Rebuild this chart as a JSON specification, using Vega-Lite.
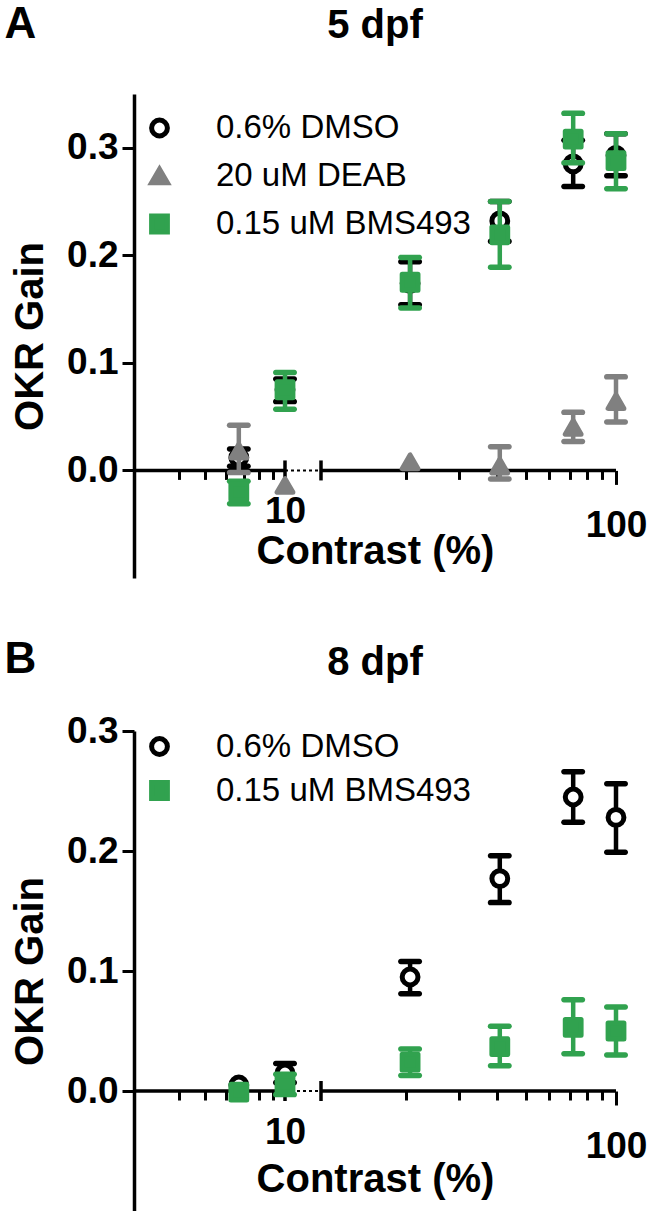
{
  "$schema": "https://vega.github.io/schema/vega-lite/v6.json",
  "padding": {"left": 4, "top": 3, "right": 0, "bottom": 0},
  "background": "white",
  "config": {
    "font": "Liberation Sans",
    "view": {"stroke": null},
    "axis": {"labelFont": "Liberation Sans", "titleFont": "Liberation Sans", "labelFontWeight": "bold", "titleFontWeight": "bold", "labelColor": "black", "titleColor": "black", "domainColor": "black", "tickColor": "black", "grid": false},
    "title": {"font": "Liberation Sans", "color": "black", "fontWeight": "bold"},
    "legend": {"labelFont": "Liberation Sans", "labelFontSize": 33, "labelColor": "black", "labelLimit": 500, "symbolSize": 250, "symbolStrokeWidth": 5, "labelOffset": 40, "padding": 0, "title": null, "symbolOpacity": 1}
  },
  "datasets": {
    "d5": [
      {"series": "0.6% DMSO", "contrast": 6.7, "mean": 0.012, "lo": 0.004, "hi": 0.020},
      {"series": "0.6% DMSO", "contrast": 10, "mean": 0.075, "lo": 0.064, "hi": 0.085},
      {"series": "0.6% DMSO", "contrast": 20.6, "mean": 0.174, "lo": 0.154, "hi": 0.194},
      {"series": "0.6% DMSO", "contrast": 41, "mean": 0.232, "lo": 0.213, "hi": 0.250},
      {"series": "0.6% DMSO", "contrast": 72, "mean": 0.285, "lo": 0.264, "hi": 0.307},
      {"series": "0.6% DMSO", "contrast": 100, "mean": 0.293, "lo": 0.274, "hi": 0.313},
      {"series": "20 uM DEAB", "contrast": 6.7, "mean": 0.018, "lo": -0.002, "hi": 0.042},
      {"series": "20 uM DEAB", "contrast": 10, "mean": -0.014, "lo": null, "hi": null},
      {"series": "20 uM DEAB", "contrast": 20.6, "mean": 0.008, "lo": null, "hi": null},
      {"series": "20 uM DEAB", "contrast": 41, "mean": 0.004, "lo": -0.008, "hi": 0.022},
      {"series": "20 uM DEAB", "contrast": 72, "mean": 0.040, "lo": 0.027, "hi": 0.054},
      {"series": "20 uM DEAB", "contrast": 100, "mean": 0.064, "lo": 0.045, "hi": 0.087},
      {"series": "0.15 uM BMS493", "contrast": 6.7, "mean": -0.020, "lo": -0.031, "hi": -0.010},
      {"series": "0.15 uM BMS493", "contrast": 10, "mean": 0.075, "lo": 0.057, "hi": 0.091},
      {"series": "0.15 uM BMS493", "contrast": 20.6, "mean": 0.175, "lo": 0.151, "hi": 0.198},
      {"series": "0.15 uM BMS493", "contrast": 41, "mean": 0.219, "lo": 0.189, "hi": 0.250},
      {"series": "0.15 uM BMS493", "contrast": 72, "mean": 0.308, "lo": 0.286, "hi": 0.332},
      {"series": "0.15 uM BMS493", "contrast": 100, "mean": 0.288, "lo": 0.262, "hi": 0.313}
    ],
    "d8": [
      {"series": "0.6% DMSO", "contrast": 6.7, "mean": 0.005, "lo": null, "hi": null},
      {"series": "0.6% DMSO", "contrast": 10, "mean": 0.015, "lo": 0.007, "hi": 0.023},
      {"series": "0.6% DMSO", "contrast": 20.6, "mean": 0.095, "lo": 0.081, "hi": 0.108},
      {"series": "0.6% DMSO", "contrast": 41, "mean": 0.177, "lo": 0.157, "hi": 0.196},
      {"series": "0.6% DMSO", "contrast": 72, "mean": 0.245, "lo": 0.224, "hi": 0.266},
      {"series": "0.6% DMSO", "contrast": 100, "mean": 0.228, "lo": 0.199, "hi": 0.256},
      {"series": "0.15 uM BMS493", "contrast": 6.7, "mean": -0.001, "lo": null, "hi": null},
      {"series": "0.15 uM BMS493", "contrast": 10, "mean": 0.006, "lo": -0.003, "hi": 0.014},
      {"series": "0.15 uM BMS493", "contrast": 20.6, "mean": 0.024, "lo": 0.013, "hi": 0.035},
      {"series": "0.15 uM BMS493", "contrast": 41, "mean": 0.037, "lo": 0.021, "hi": 0.054},
      {"series": "0.15 uM BMS493", "contrast": 72, "mean": 0.053, "lo": 0.031, "hi": 0.076},
      {"series": "0.15 uM BMS493", "contrast": 100, "mean": 0.050, "lo": 0.030, "hi": 0.070}
    ]
  },
  "spacing": 60,
  "resolve": {
    "scale": {"x": "independent", "y": "independent", "shape": "independent", "fill": "independent", "stroke": "independent"},
    "legend": {"shape": "independent", "fill": "independent", "stroke": "independent"}
  },
  "vconcat": [
    {
      "title": {"text": "A", "anchor": "start", "frame": "bounds", "fontSize": 44, "offset": -41, "dx": -6},
      "vconcat": [
        {
          "title": {"text": "5 dpf", "fontSize": 40, "anchor": "middle", "offset": 48},
          "width": 482,
          "height": 484,
          "data": {"name": "d5"},
          "encoding": {
            "x": {"field": "contrast", "type": "quantitative",
              "scale": {"type": "log", "domain": [2.7, 10, 10.4, 100], "range": [0, 151, 187, 482], "nice": false, "zero": false},
              "axis": {"title": "Contrast (%)", "titleFontSize": 40, "titlePadding": -12, "values": [4, 5, 6, 7, 8, 9, 10, 20, 30, 40, 50, 60, 70, 80, 90, 100],
                "labelExpr": "datum.value == 10 || datum.value == 100 ? format(datum.value, 'd') : ''",
                "labelFontSize": 37, "labelPadding": 23, "labelFlush": false, "labelOverlap": false, "domain": false, "offset": -107.6,
                "tickWidth": 3, "tickSize": {"condition": [{"test": "datum.value == 10", "value": 0}, {"test": "datum.value == 100", "value": 14}], "value": 9}}},
            "y": {"field": "mean", "type": "quantitative",
              "scale": {"domain": [-0.1, 0.35], "nice": false, "zero": false},
              "axis": {"title": "OKR Gain", "titleFontSize": 40, "titlePadding": 16, "values": [0, 0.1, 0.2, 0.3], "format": ".1f", "labelFontSize": 37, "labelPadding": 4, "tickSize": 12, "tickWidth": 3, "domainWidth": 3.5}}
          },
          "layer": [
            {"data": {"values": [{"seg": "solid", "contrast": 2.7, "contrast_end": 10, "level": 0}, {"seg": "solid", "contrast": 10.4, "contrast_end": 100, "level": 0}]},
              "mark": {"type": "rule", "color": "black", "strokeWidth": 3.5},
              "encoding": {"x2": {"field": "contrast_end"}, "y": {"field": "level", "type": "quantitative", "scale": {"domain": [-0.1, 0.35], "nice": false, "zero": false}}}},
            {"data": {"values": [{"seg": "dotted", "contrast": 10, "contrast_end": 10.4, "level": 0}]},
              "mark": {"type": "rule", "color": "black", "strokeWidth": 2, "strokeDash": [3, 3]},
              "encoding": {"x2": {"field": "contrast_end"}, "y": {"field": "level", "type": "quantitative", "scale": {"domain": [-0.1, 0.35], "nice": false, "zero": false}}}},
            {"data": {"values": [{"contrast": 10, "level": 0}, {"contrast": 10.4, "level": 0}]},
              "mark": {"type": "tick", "orient": "vertical", "color": "black", "size": 20, "thickness": 3.5, "opacity": 1},
              "encoding": {"y": {"field": "level", "type": "quantitative", "scale": {"domain": [-0.1, 0.35], "nice": false, "zero": false}}}},

            {"transform": [{"filter": "datum.series == '0.6% DMSO'"}], "mark": {"type": "rule", "color": "black", "strokeWidth": 4.5},
              "encoding": {"y": {"field": "lo", "type": "quantitative", "scale": {"domain": [-0.1, 0.35], "nice": false, "zero": false}}, "y2": {"field": "hi"}}},
            {"transform": [{"filter": "datum.series == '0.6% DMSO'"}, {"fold": ["lo", "hi"], "as": ["k", "v"]}], "mark": {"type": "tick", "orient": "horizontal", "color": "black", "size": 24, "thickness": 5.5, "cornerRadius": 2.7, "opacity": 1},
              "encoding": {"y": {"field": "v", "type": "quantitative", "scale": {"domain": [-0.1, 0.35], "nice": false, "zero": false}}}},
            {"transform": [{"filter": "datum.series == '0.6% DMSO'"}], "mark": {"type": "point", "size": 250, "strokeWidth": 5, "opacity": 1, "strokeJoin": "round"},
              "encoding": {
                "shape": {"field": "series", "type": "nominal", "scale": {"domain": ["0.6% DMSO", "20 uM DEAB", "0.15 uM BMS493"], "range": ["circle", "triangle-up", "square"]}, "legend": {"orient": "none", "legendX": 9, "legendY": 17.5, "rowPadding": 12}},
                "fill": {"field": "series", "type": "nominal", "scale": {"domain": ["0.6% DMSO", "20 uM DEAB", "0.15 uM BMS493"], "range": ["white", "#808080", "#31a24f"]}},
                "stroke": {"field": "series", "type": "nominal", "scale": {"domain": ["0.6% DMSO", "20 uM DEAB", "0.15 uM BMS493"], "range": ["black", "#808080", "#31a24f"]}}}},

            {"transform": [{"filter": "datum.series == '20 uM DEAB'"}], "mark": {"type": "rule", "color": "#808080", "strokeWidth": 4.5},
              "encoding": {"y": {"field": "lo", "type": "quantitative", "scale": {"domain": [-0.1, 0.35], "nice": false, "zero": false}}, "y2": {"field": "hi"}}},
            {"transform": [{"filter": "datum.series == '20 uM DEAB'"}, {"fold": ["lo", "hi"], "as": ["k", "v"]}], "mark": {"type": "tick", "orient": "horizontal", "color": "#808080", "size": 24, "thickness": 5.5, "cornerRadius": 2.7, "opacity": 1},
              "encoding": {"y": {"field": "v", "type": "quantitative", "scale": {"domain": [-0.1, 0.35], "nice": false, "zero": false}}}},
            {"transform": [{"filter": "datum.series == '20 uM DEAB'"}], "mark": {"type": "point", "size": 250, "strokeWidth": 5, "opacity": 1, "strokeJoin": "round"},
              "encoding": {
                "shape": {"field": "series", "type": "nominal", "scale": {"domain": ["0.6% DMSO", "20 uM DEAB", "0.15 uM BMS493"], "range": ["circle", "triangle-up", "square"]}, "legend": {"orient": "none", "legendX": 9, "legendY": 17.5, "rowPadding": 12}},
                "fill": {"field": "series", "type": "nominal", "scale": {"domain": ["0.6% DMSO", "20 uM DEAB", "0.15 uM BMS493"], "range": ["white", "#808080", "#31a24f"]}},
                "stroke": {"field": "series", "type": "nominal", "scale": {"domain": ["0.6% DMSO", "20 uM DEAB", "0.15 uM BMS493"], "range": ["black", "#808080", "#31a24f"]}}}},

            {"transform": [{"filter": "datum.series == '0.15 uM BMS493'"}], "mark": {"type": "rule", "color": "#31a24f", "strokeWidth": 4.5},
              "encoding": {"y": {"field": "lo", "type": "quantitative", "scale": {"domain": [-0.1, 0.35], "nice": false, "zero": false}}, "y2": {"field": "hi"}}},
            {"transform": [{"filter": "datum.series == '0.15 uM BMS493'"}, {"fold": ["lo", "hi"], "as": ["k", "v"]}], "mark": {"type": "tick", "orient": "horizontal", "color": "#31a24f", "size": 24, "thickness": 5.5, "cornerRadius": 2.7, "opacity": 1},
              "encoding": {"y": {"field": "v", "type": "quantitative", "scale": {"domain": [-0.1, 0.35], "nice": false, "zero": false}}}},
            {"transform": [{"filter": "datum.series == '0.15 uM BMS493'"}], "mark": {"type": "point", "size": 250, "strokeWidth": 5, "opacity": 1, "strokeJoin": "round"},
              "encoding": {
                "shape": {"field": "series", "type": "nominal", "scale": {"domain": ["0.6% DMSO", "20 uM DEAB", "0.15 uM BMS493"], "range": ["circle", "triangle-up", "square"]}, "legend": {"orient": "none", "legendX": 9, "legendY": 17.5, "rowPadding": 12}},
                "fill": {"field": "series", "type": "nominal", "scale": {"domain": ["0.6% DMSO", "20 uM DEAB", "0.15 uM BMS493"], "range": ["white", "#808080", "#31a24f"]}},
                "stroke": {"field": "series", "type": "nominal", "scale": {"domain": ["0.6% DMSO", "20 uM DEAB", "0.15 uM BMS493"], "range": ["black", "#808080", "#31a24f"]}}}}
          ]
        }
      ]
    },
    {
      "title": {"text": "B", "anchor": "start", "frame": "bounds", "fontSize": 44, "offset": -39, "dx": -6},
      "vconcat": [
        {
          "title": {"text": "8 dpf", "fontSize": 40, "anchor": "middle", "offset": 29},
          "width": 482,
          "height": 480,
          "data": {"name": "d8"},
          "encoding": {
            "x": {"field": "contrast", "type": "quantitative",
              "scale": {"type": "log", "domain": [2.7, 10, 10.4, 100], "range": [0, 151, 187, 482], "nice": false, "zero": false},
              "axis": {"title": "Contrast (%)", "titleFontSize": 40, "titlePadding": -5, "values": [4, 5, 6, 7, 8, 9, 10, 20, 30, 40, 50, 60, 70, 80, 90, 100],
                "labelExpr": "datum.value == 10 || datum.value == 100 ? format(datum.value, 'd') : ''",
                "labelFontSize": 37, "labelPadding": 23, "labelFlush": false, "labelOverlap": false, "domain": false, "offset": -120,
                "tickWidth": 3, "tickSize": {"condition": [{"test": "datum.value == 10", "value": 0}, {"test": "datum.value == 100", "value": 14}], "value": 9}}},
            "y": {"field": "mean", "type": "quantitative",
              "scale": {"domain": [-0.1, 0.3], "nice": false, "zero": false},
              "axis": {"title": "OKR Gain", "titleFontSize": 40, "titlePadding": 16, "values": [0, 0.1, 0.2, 0.3], "format": ".1f", "labelFontSize": 37, "labelPadding": 4, "tickSize": 12, "tickWidth": 3, "domainWidth": 3.5}}
          },
          "layer": [
            {"data": {"values": [{"seg": "solid", "contrast": 2.7, "contrast_end": 10, "level": 0}, {"seg": "solid", "contrast": 10.4, "contrast_end": 100, "level": 0}]},
              "mark": {"type": "rule", "color": "black", "strokeWidth": 3.5},
              "encoding": {"x2": {"field": "contrast_end"}, "y": {"field": "level", "type": "quantitative", "scale": {"domain": [-0.1, 0.3], "nice": false, "zero": false}}}},
            {"data": {"values": [{"seg": "dotted", "contrast": 10, "contrast_end": 10.4, "level": 0}]},
              "mark": {"type": "rule", "color": "black", "strokeWidth": 2, "strokeDash": [3, 3]},
              "encoding": {"x2": {"field": "contrast_end"}, "y": {"field": "level", "type": "quantitative", "scale": {"domain": [-0.1, 0.3], "nice": false, "zero": false}}}},
            {"data": {"values": [{"contrast": 10, "level": 0}, {"contrast": 10.4, "level": 0}]},
              "mark": {"type": "tick", "orient": "vertical", "color": "black", "size": 20, "thickness": 3.5, "opacity": 1},
              "encoding": {"y": {"field": "level", "type": "quantitative", "scale": {"domain": [-0.1, 0.3], "nice": false, "zero": false}}}},

            {"transform": [{"filter": "datum.series == '0.6% DMSO'"}], "mark": {"type": "rule", "color": "black", "strokeWidth": 4.5},
              "encoding": {"y": {"field": "lo", "type": "quantitative", "scale": {"domain": [-0.1, 0.3], "nice": false, "zero": false}}, "y2": {"field": "hi"}}},
            {"transform": [{"filter": "datum.series == '0.6% DMSO'"}, {"fold": ["lo", "hi"], "as": ["k", "v"]}], "mark": {"type": "tick", "orient": "horizontal", "color": "black", "size": 24, "thickness": 5.5, "cornerRadius": 2.7, "opacity": 1},
              "encoding": {"y": {"field": "v", "type": "quantitative", "scale": {"domain": [-0.1, 0.3], "nice": false, "zero": false}}}},
            {"transform": [{"filter": "datum.series == '0.6% DMSO'"}], "mark": {"type": "point", "size": 250, "strokeWidth": 5, "opacity": 1, "strokeJoin": "round"},
              "encoding": {
                "shape": {"field": "series", "type": "nominal", "scale": {"domain": ["0.6% DMSO", "0.15 uM BMS493"], "range": ["circle", "square"]}, "legend": {"orient": "none", "legendX": 9, "legendY": -1, "rowPadding": 7}},
                "fill": {"field": "series", "type": "nominal", "scale": {"domain": ["0.6% DMSO", "0.15 uM BMS493"], "range": ["white", "#31a24f"]}},
                "stroke": {"field": "series", "type": "nominal", "scale": {"domain": ["0.6% DMSO", "0.15 uM BMS493"], "range": ["black", "#31a24f"]}}}},

            {"transform": [{"filter": "datum.series == '0.15 uM BMS493'"}], "mark": {"type": "rule", "color": "#31a24f", "strokeWidth": 4.5},
              "encoding": {"y": {"field": "lo", "type": "quantitative", "scale": {"domain": [-0.1, 0.3], "nice": false, "zero": false}}, "y2": {"field": "hi"}}},
            {"transform": [{"filter": "datum.series == '0.15 uM BMS493'"}, {"fold": ["lo", "hi"], "as": ["k", "v"]}], "mark": {"type": "tick", "orient": "horizontal", "color": "#31a24f", "size": 24, "thickness": 5.5, "cornerRadius": 2.7, "opacity": 1},
              "encoding": {"y": {"field": "v", "type": "quantitative", "scale": {"domain": [-0.1, 0.3], "nice": false, "zero": false}}}},
            {"transform": [{"filter": "datum.series == '0.15 uM BMS493'"}], "mark": {"type": "point", "size": 250, "strokeWidth": 5, "opacity": 1, "strokeJoin": "round"},
              "encoding": {
                "shape": {"field": "series", "type": "nominal", "scale": {"domain": ["0.6% DMSO", "0.15 uM BMS493"], "range": ["circle", "square"]}, "legend": {"orient": "none", "legendX": 9, "legendY": -1, "rowPadding": 7}},
                "fill": {"field": "series", "type": "nominal", "scale": {"domain": ["0.6% DMSO", "0.15 uM BMS493"], "range": ["white", "#31a24f"]}},
                "stroke": {"field": "series", "type": "nominal", "scale": {"domain": ["0.6% DMSO", "0.15 uM BMS493"], "range": ["black", "#31a24f"]}}}}
          ]
        }
      ]
    }
  ]
}
